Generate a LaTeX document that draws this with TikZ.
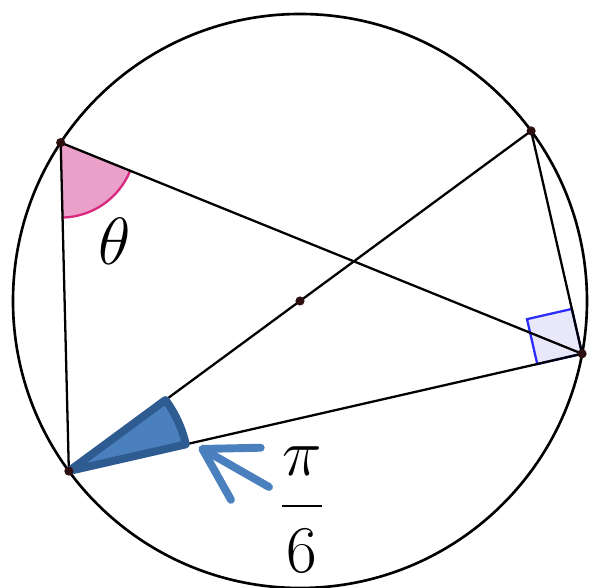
\documentclass[tikz,border=0pt]{standalone}
\usepackage{fix-cm}
\usepackage{amsmath}
\usetikzlibrary{arrows.meta, angles}

\definecolor{wedgeblue}{RGB}{74,128,190}
\definecolor{wedgeedge}{RGB}{46,92,145}
\definecolor{thetapink}{RGB}{234,160,200}
\definecolor{thetaarc}{RGB}{215,40,125}
\definecolor{sqblue}{RGB}{45,45,250}
\definecolor{sqfill}{RGB}{232,232,250}
\definecolor{ptdark}{RGB}{45,15,15}

\begin{document}
\begin{tikzpicture}[x=2cm, y=2cm, line width=1.3pt, font=\fontsize{38}{42}\selectfont,
    pfeil/.style={line width=4.5pt, wedgeblue, line cap=round,
      -{Straight Barb[length=10mm, width=12mm, round]}}]
	\useasboundingbox (-3.00,-2.87) rectangle (2.90,3.01);
	
	% --- Punkte auf dem Kreis ---
	\coordinate (O) at (0,0);
	\coordinate (A) at (146.5:2.87);
	\coordinate (B) at (36.35:2.87);
	\coordinate (C) at (-10.6:2.87);
	\coordinate (D) at (216.35:2.87);
	
	% --- rechter Winkel bei C ---
	\draw[sqblue, fill=sqfill] (C) -- ++(192.86:0.46) -- ++(102.86:0.46) -- ++(12.86:0.46) -- cycle;
	
	% --- Winkel theta bei A ---
	\pic[fill=thetapink, draw=thetaarc, angle radius=1.5cm] {angle=D--A--C};
	
	% --- Kreis und Sehnen ---
	\draw[line width=1.5pt] (O) circle (2.87);
	\draw (A) -- (D);
	\draw (A) -- (C);
	\draw (D) -- (C);
	\draw (D) -- (B);
	\draw (B) -- (C);
	
	% --- Winkel pi/6 bei D ---
	\draw[wedgeedge, fill=wedgeblue, line width=4.5pt, line join=round]
		(D) -- ++(12.86:1.2) arc[start angle=12.86, end angle=36.35, radius=2.4cm] -- cycle;
	
	% --- Punkte ---
	\foreach \p in {A,B,C,D,O}{
		\fill[ptdark] (\p) circle (2.6pt);
	}
	
	% --- Beschriftung ---
	\node (theta) at (-1.85,0.60) {$\theta$};
	\node[anchor=base] (frac) at (0.02,-2.22)
		{$\dfrac{\pi\rule[-0.37em]{0pt}{0.1em}}{\rule{0pt}{0.9em}6}$};
	\coordinate (tail) at (-0.31,-1.86);
	\coordinate (tip) at (-1.01,-1.46);
	\draw[pfeil] (tail) -- (tip);
	
\end{tikzpicture}
\end{document}
